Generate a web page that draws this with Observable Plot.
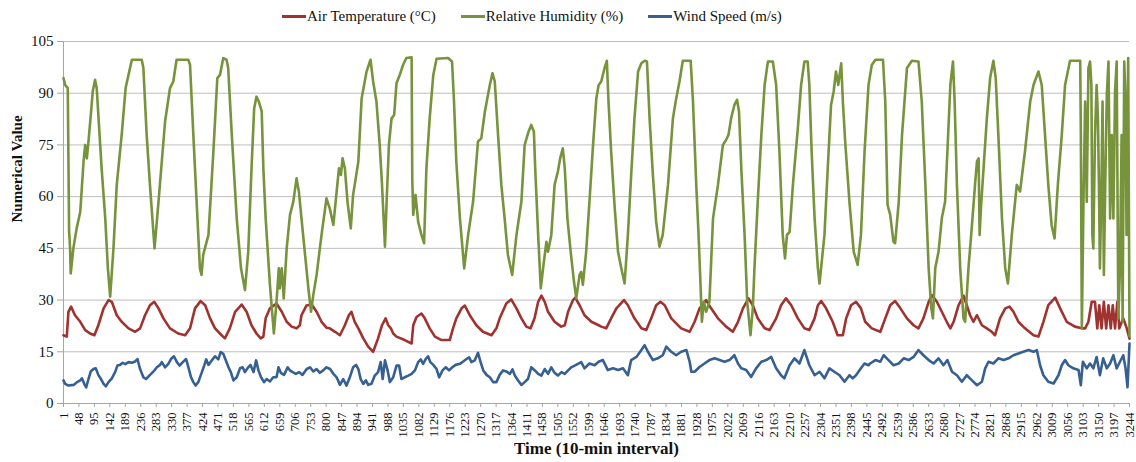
<!DOCTYPE html>
<html>
<head>
<meta charset="utf-8">
<script src="https://cdn.jsdelivr.net/npm/d3@7"></script>
<script src="https://cdn.jsdelivr.net/npm/@observablehq/plot@0.6"></script>
<style>
  html, body { margin: 0; padding: 0; background: #fff; }
  #wrap { position: relative; width: 1136px; height: 462px; overflow: hidden; }
  #legend { position: absolute; left: 282px; top: 5px; height: 22px; display: flex; align-items: center;
            font-family: "Liberation Serif", "Times New Roman", serif; font-size: 15px; color: #111; white-space: nowrap; }
  #legend .item { display: flex; align-items: center; margin-right: 25px; }
  #legend .swatch { width: 24px; height: 3px; margin-right: 1px; }
  #chart { position: absolute; left: 0; top: 30px; }
</style>
</head>
<body>
<div id="wrap">
  <div id="legend"></div>
  <div id="chart"></div>
</div>
<script>
// ---- Data (index of 10-min interval, value) ----
const seriesNames = ["Air Temperature (°C)", "Relative Humidity (%)", "Wind Speed (m/s)"];
const seriesColors = ["#A0332F", "#77933C", "#376092"];

const airTemperature = [
[1,19.8],[11,19.4],[16,26.6],[24,28.1],[36,25.6],[52,23.7],[67,21.3],[82,20.3],[95,19.8],[107,22.7],[123,27.6],[138,30.0],[148,29.5],[163,25.6],[178,23.7],[199,21.8],[219,20.8],[234,21.8],[249,25.6],[264,28.5],[277,29.5],[290,27.6],[305,24.7],[325,21.8],[350,20.3],[371,19.8],[386,21.8],[401,27.6],[418,29.7],[432,28.5],[447,24.7],[462,21.8],[482,19.8],[492,18.9],[507,21.8],[523,26.6],[543,28.7],[558,26.6],[573,22.7],[588,20.3],[601,18.9],[609,19.4],[616,24.7],[629,27.6],[649,29.0],[665,26.6],[680,23.7],[695,22.3],[710,21.8],[720,22.7],[725,25.6],[740,28.4],[756,28.7],[771,26.6],[786,23.7],[801,22.0],
[811,21.8],[827,20.8],[842,19.8],[857,22.7],[869,25.6],[877,26.6],[887,23.7],[898,21.8],[913,18.9],[928,16.5],[943,15.0],[958,18.9],[970,22.7],[981,24.7],[989,22.7],[997,21.8],[1004,20.3],[1014,19.4],[1039,18.4],[1060,17.4],[1065,22.7],[1075,25.1],[1090,26.1],[1100,24.7],[1115,21.8],[1131,19.4],[1151,18.4],[1176,18.4],[1186,21.8],[1196,24.7],[1212,27.6],[1222,28.4],[1237,25.6],[1257,22.7],[1277,20.8],[1303,19.8],[1318,21.8],[1328,24.7],[1348,29.0],[1363,30.2],[1379,27.6],[1394,24.7],[1409,22.3],[1422,21.8],[1434,24.7],[1445,29.5],[1455,31.3],[1465,29.5],[1475,26.6],[1495,23.7],[1515,22.3],[1526,22.7],[1536,26.6],[1551,30.0],[1558,30.7],[1571,28.5],[1586,25.6],[1607,23.7],[1629,22.7],
[1637,22.3],[1652,21.8],[1667,24.7],[1683,27.6],[1706,30.0],[1718,28.5],[1738,24.7],[1759,21.8],[1774,21.3],[1789,24.7],[1804,28.5],[1817,29.5],[1830,28.5],[1850,24.7],[1880,21.8],[1906,20.8],[1921,23.7],[1936,27.6],[1956,30.0],[1971,27.6],[1992,24.7],[2017,22.3],[2037,20.8],[2053,23.7],[2068,27.6],[2085,30.5],[2098,28.5],[2113,24.7],[2134,21.8],[2149,21.3],[2169,24.7],[2184,28.5],[2199,30.5],[2215,28.5],[2235,24.7],[2255,21.8],[2270,21.3],[2286,24.7],[2296,28.5],[2306,29.7],[2321,27.6],[2341,23.7],[2356,19.8],[2372,19.8],[2382,24.7],[2397,28.5],[2412,29.5],[2427,27.6],
[2440,23.7],[2460,21.8],[2486,20.8],[2501,24.7],[2516,28.5],[2531,29.7],[2547,27.6],[2567,24.7],[2587,22.7],[2602,21.8],[2617,24.7],[2633,29.5],[2643,31.4],[2658,29.5],[2673,26.6],[2688,23.7],[2699,21.8],[2709,23.7],[2724,28.5],[2739,31.3],[2749,28.5],[2759,25.6],[2769,23.7],[2780,25.6],[2795,22.7],[2810,21.8],[2825,20.8],[2835,19.8],[2850,24.7],[2866,27.6],[2879,28.1],[2891,26.6],[2906,23.7],[2926,21.8],[2952,19.8],[2967,19.4],[2982,23.7],[2997,28.5],[3018,30.7],[3033,27.6],[3053,23.7],[3078,22.3],[3099,21.8],[3109,21.8],[3119,23.7],[3129,29.5],[3139,29.5],[3146,21.8],[3152,28.5],[3159,21.8],[3166,29.5],[3173,21.8],[3180,28.5],[3187,21.8],[3193,28.5],[3200,21.8],[3207,29.5],[3213,21.8],[3225,24.7],[3235,22.0],[3244,18.8]
];

const relativeHumidity = [
[1,94.4],[6,92.4],[14,91.5],[18,50.0],[21,45.0],[23,37.7],[31,45.0],[41,50.8],[52,55.6],[62,70.2],[67,75.0],[72,71.1],[77,76.0],[85,84.7],[90,90.5],[97,93.9],[102,91.5],[107,83.7],[117,68.2],[128,53.7],[136,39.2],[143,31.0],
[153,45.0],[163,63.4],[178,77.9],[190,91.5],[201,96.3],[209,99.7],[239,99.7],[244,97.3],[254,77.9],[264,63.4],[278,45.0],
[290,58.5],[310,81.8],[325,91.5],[335,93.4],[345,99.7],[381,99.7],[386,98.2],[396,77.9],[406,58.5],[416,39.2],[421,37.3],
[426,43.1],[442,48.9],[457,73.1],[469,94.4],[477,95.3],[487,100.2],[497,99.7],[502,97.3],[513,77.9],[528,53.7],[541,39.2],[553,32.9],
[563,44.0],[573,68.2],[581,85.6],[588,89.0],[595,87.6],[604,84.7],[609,68.2],[616,53.7],[629,34.4],[641,20.3],
[649,29.5],[656,39.2],[659,33.4],[665,39.2],[671,30.5],[680,45.0],[690,54.7],[700,58.5],[710,65.3],[717,61.5],[725,53.7],[735,44.0],[746,33.4],[754,26.6],[761,31.5],[771,37.3],[786,48.9],[801,59.5],
[811,56.6],[822,51.8],[832,61.5],[839,68.2],[845,66.3],[850,71.1],[857,68.2],[865,58.5],[875,50.8],[882,60.5],[890,65.3],[898,70.2],[908,88.5],[923,96.3],[935,99.7],[943,93.4],[953,87.6],[963,75.0],[970,63.4],[979,45.5],
[984,58.5],[991,75.0],[999,82.7],[1007,83.7],[1014,92.9],[1024,95.3],[1034,98.2],[1044,100.2],[1060,100.4],[1062,65.3],[1065,54.7],[1072,60.5],[1080,52.7],[1090,48.9],[1098,46.5],
[1105,68.2],[1115,82.7],[1126,95.3],[1136,100.0],[1171,100.2],[1183,99.2],[1189,87.6],[1196,70.2],[1207,53.7],[1220,39.2],
[1232,48.9],[1247,58.5],[1262,76.0],[1272,76.9],[1283,84.7],[1298,92.4],[1306,95.8],[1313,93.4],[1323,77.9],[1333,63.4],[1343,53.7],[1353,43.1],[1366,37.3],
[1379,48.9],[1394,58.5],[1404,75.0],[1416,78.9],[1424,80.8],[1432,78.9],[1436,68.2],[1445,48.9],[1453,33.4],
[1460,39.2],[1470,46.9],[1475,44.0],[1485,48.9],[1495,63.4],[1505,67.3],[1512,71.1],[1520,74.0],[1526,68.2],[1534,53.7],[1544,44.0],[1554,35.3],[1561,30.5],[1571,37.3],[1576,38.2],[1581,34.4],[1591,44.0],[1601,58.5],[1612,75.0],[1622,88.5],[1629,92.4],
[1637,93.4],[1647,97.3],[1654,99.4],[1659,87.6],[1667,73.1],[1678,56.6],[1688,44.0],[1698,39.2],[1708,34.8],
[1718,48.9],[1728,66.3],[1738,82.7],[1749,96.3],[1759,98.7],[1769,99.4],[1776,99.2],[1784,82.7],[1794,66.3],[1804,52.7],[1814,45.5],
[1824,48.9],[1840,63.4],[1855,82.7],[1865,88.5],[1875,93.4],[1885,99.4],[1909,99.4],[1916,87.6],[1926,63.4],[1933,48.9],[1939,34.4],[1943,23.7],
[1949,29.5],[1956,26.6],[1966,29.5],[1977,53.7],[1992,63.4],[2007,75.0],[2017,76.5],[2024,77.9],[2032,82.7],[2042,86.6],[2050,88.1],[2056,84.7],[2063,68.2],[2073,48.9],[2081,29.5],[2085,25.6],[2091,19.8],[2098,27.6],
[2103,39.2],[2113,58.5],[2124,77.9],[2134,92.4],[2144,99.2],[2159,99.2],[2169,92.4],[2179,73.1],[2189,48.9],[2196,42.1],[2202,48.9],[2210,49.8],[2220,63.4],[2235,79.8],[2245,92.4],[2255,99.2],[2265,99.2],[2270,92.4],[2277,73.1],[2286,53.7],[2296,39.2],[2301,34.8],
[2316,48.9],[2326,68.2],[2336,86.6],[2344,90.5],[2351,96.3],[2358,92.4],[2367,98.7],[2372,87.6],[2379,76.0],[2392,58.5],[2405,44.0],[2417,40.2],[2427,48.9],[2438,73.1],[2450,92.4],
[2460,98.2],[2471,99.7],[2494,99.7],[2501,87.6],[2508,57.6],[2516,54.7],[2526,46.9],[2531,46.5],[2542,58.5],[2552,77.9],[2567,97.3],[2582,99.4],[2602,99.2],[2612,87.6],[2623,63.4],[2633,39.2],[2641,27.6],[2646,24.7],
[2653,39.2],[2663,44.0],[2673,53.7],[2683,58.5],[2690,73.1],[2699,92.4],[2707,99.2],[2712,87.6],[2719,63.4],[2729,39.2],[2739,24.7],[2744,23.7],
[2754,39.2],[2764,50.8],[2774,63.4],[2780,70.2],[2785,71.1],[2788,48.9],[2792,56.6],[2800,68.2],[2810,82.7],[2820,94.4],[2830,99.4],[2837,94.4],[2845,77.9],[2856,53.7],[2866,39.2],[2874,34.8],
[2886,48.9],[2901,63.4],[2911,61.5],[2926,73.1],[2942,87.6],[2952,92.4],[2967,96.3],[2977,92.4],[2987,77.9],[2997,63.4],[3007,51.8],[3016,47.9],
[3026,63.4],[3038,77.9],[3048,92.4],[3063,99.4],[3094,99.4],[3096,77.9],[3099,21.8],[3104,58.5],[3109,87.6],[3114,58.5],[3119,97.3],[3124,99.2],[3128,92.4],[3131,48.9],[3134,45.0],[3139,77.9],[3144,92.4],[3148,82.7],[3151,63.4],[3154,39.2],[3158,58.5],[3162,87.6],[3166,37.3],[3171,68.2],[3175,89.5],[3180,99.2],[3185,53.7],[3190,77.9],[3195,53.7],[3200,90.5],[3205,99.2],[3210,24.7],[3215,39.2],[3220,77.9],[3223,23.7],[3228,99.2],[3232,87.6],[3235,48.9],[3240,100.2],[3244,19.5]
];

const windSpeed = [
[1,6.7],[6,5.7],[16,5.2],[32,5.4],[42,6.2],[52,6.7],[57,7.3],[64,5.7],[70,4.7],[77,7.1],[84,9.3],[92,10.0],[99,10.2],[107,8.3],[115,7.1],[123,5.7],[130,5.0],[138,6.2],[148,7.3],[158,9.1],[165,11.0],[173,11.2],[181,11.8],[189,11.4],[199,12.0],[209,11.8],[219,12.2],[226,12.9],[234,10.0],[244,7.6],[252,7.1],[262,8.1],[275,9.3],[285,10.5],[295,11.2],[300,12.0],[310,10.5],[320,11.5],[328,12.9],[337,13.7],[346,12.0],[354,11.0],[364,12.0],[374,12.9],[381,10.5],[389,7.6],[396,6.2],[403,5.2],[411,6.2],[422,9.1],[429,11.0],[435,12.8],[442,11.2],[452,12.5],[462,13.7],[472,12.8],[479,14.9],[487,14.4],[495,12.5],[503,10.5],[510,9.1],[518,6.7],[528,7.6],[538,10.2],[546,10.5],[553,9.1],[563,10.5],[570,11.2],[579,9.1],[587,12.5],[594,9.6],[602,7.6],[611,6.2],[619,7.1],[629,6.4],[639,7.6],[649,7.6],[655,10.5],[662,8.9],[672,8.3],[683,10.5],[690,9.6],[698,9.1],[708,8.6],[718,9.1],[728,8.3],[741,10.0],[751,10.5],[761,9.3],[771,10.0],[781,8.9],[791,9.6],[801,10.5],
[812,10.0],[822,8.6],[832,7.6],[842,5.4],[852,7.1],[862,5.2],[872,7.6],[882,10.5],[891,11.2],[898,10.0],[905,7.1],[913,5.7],[921,6.7],[928,5.4],[938,5.7],[948,8.1],[958,9.1],[966,12.0],[972,7.1],[979,12.5],[987,9.6],[994,6.2],[1004,7.6],[1014,11.0],[1022,11.0],[1029,7.1],[1039,7.6],[1050,8.1],[1060,8.6],[1070,9.6],[1080,12.0],[1088,12.8],[1095,11.5],[1103,12.9],[1110,13.7],[1117,12.0],[1126,11.2],[1136,10.0],[1144,7.6],[1154,9.6],[1164,10.5],[1174,9.6],[1184,10.5],[1194,11.2],[1207,11.5],[1217,12.2],[1227,12.9],[1235,13.4],[1242,12.0],[1252,12.5],[1262,14.7],[1270,12.0],[1278,9.6],[1288,8.3],[1298,7.6],[1308,6.2],[1318,6.2],[1328,8.3],[1338,9.6],[1348,9.3],[1359,8.6],[1367,9.9],[1374,8.1],[1384,6.7],[1394,5.4],[1404,6.2],[1414,7.1],[1424,10.5],[1435,9.6],[1445,8.6],[1455,8.1],[1465,10.0],[1475,8.6],[1485,10.5],[1495,8.9],[1505,8.1],[1516,9.1],[1526,8.6],[1536,9.6],[1546,10.5],[1556,11.0],[1566,11.5],[1576,12.0],
[1586,10.2],[1601,11.6],[1617,11.1],[1629,12.1],[1642,12.6],[1657,9.7],[1673,10.2],[1688,9.7],[1703,10.2],[1718,8.2],[1728,12.6],[1744,13.5],[1759,15.5],[1769,16.9],[1779,15.0],[1794,12.6],[1809,13.1],[1824,14.0],[1835,16.5],[1850,15.0],[1865,14.0],[1880,15.0],[1896,15.5],[1906,12.1],[1911,9.2],[1921,9.2],[1936,10.6],[1951,11.6],[1966,12.6],[1982,13.1],[1997,12.6],[2012,12.1],[2027,12.6],[2042,14.0],[2053,11.6],[2063,10.2],[2078,9.7],[2093,7.7],[2108,10.2],[2124,12.1],[2139,12.6],[2154,13.5],[2169,10.2],[2184,8.2],[2194,7.3],[2210,11.1],[2225,13.1],[2240,11.6],[2255,15.5],[2270,11.1],[2286,8.2],[2301,9.2],[2316,7.3],[2331,10.2],[2346,9.2],[2362,8.2],[2377,6.3],[2392,8.2],[2402,7.3],[2412,8.2],[2427,10.2],[2438,11.6],[2450,11.1],
[2455,11.6],[2471,12.6],[2486,12.1],[2496,14.0],[2511,12.6],[2526,11.1],[2542,11.6],[2557,13.1],[2572,12.6],[2587,13.5],[2602,15.5],[2617,14.0],[2633,12.6],[2648,11.6],[2663,13.1],[2678,11.1],[2690,12.6],[2704,9.2],[2719,8.2],[2734,6.3],[2749,8.2],[2764,6.8],[2780,5.3],[2795,6.3],[2805,10.2],[2815,12.1],[2830,11.6],[2845,13.1],[2861,12.6],[2876,13.1],[2891,14.0],[2906,14.5],[2921,15.0],[2937,15.5],[2952,15.0],[2962,15.5],[2972,11.1],[2982,8.2],[2997,6.3],[3013,5.8],[3028,8.2],[3038,11.1],[3048,12.6],[3058,11.1],[3073,10.2],[3089,9.7],[3096,5.3],[3102,12.1],[3114,10.2],[3124,11.6],[3134,10.2],[3144,13.5],[3154,8.2],[3164,13.1],[3175,10.2],[3185,11.6],[3195,14.0],[3205,10.2],[3215,12.1],[3225,14.0],[3232,10.2],[3238,4.7],[3244,17.4]
];

const xTicks = [1,48,95,142,189,236,283,330,377,424,471,518,565,612,659,706,753,800,847,894,941,988,1035,1082,1129,1176,1223,1270,1317,1364,1411,1458,1505,1552,1599,1646,1693,1740,1787,1834,1881,1928,1975,2022,2069,2116,2163,2210,2257,2304,2351,2398,2445,2492,2539,2586,2633,2680,2727,2774,2821,2868,2915,2962,3009,3056,3103,3150,3197,3244];
const yTicks = [0,15,30,45,60,75,90,105];
const xTitle = "Time (10-min interval)";
const yTitle = "Numerical Value";

// ---- Legend (HTML, above the SVG) ----
const legend = document.getElementById("legend");
seriesNames.forEach((name, i) => {
  const item = document.createElement("div");
  item.className = "item";
  const sw = document.createElement("div");
  sw.className = "swatch";
  sw.style.background = seriesColors[i];
  const label = document.createElement("span");
  label.textContent = name;
  item.appendChild(sw);
  item.appendChild(label);
  legend.appendChild(item);
});

// ---- Chart ----
const allSeries = [airTemperature, relativeHumidity, windSpeed];
const rows = allSeries.flatMap((s, i) => s.map(([t, v]) => ({t, v, series: seriesNames[i]})));

const chart = Plot.plot({
  width: 1136,
  height: 432,
  marginTop: 11,
  marginBottom: 59,
  marginLeft: 63,
  marginRight: 7,
  style: {fontFamily: "'Liberation Serif', 'Times New Roman', serif", color: "#111", background: "#fff", overflow: "visible"},
  x: {domain: [1, 3244]},
  y: {domain: [0, 105]},
  color: {domain: seriesNames, range: seriesColors},
  marks: [
    Plot.gridY(yTicks, {stroke: "#BEBEBE", strokeOpacity: 1, strokeWidth: 1}),
    Plot.ruleX([1], {stroke: "#A6A6A6", strokeWidth: 1}),
    Plot.ruleY([0], {stroke: "#A6A6A6", strokeWidth: 1}),
    Plot.axisX(xTicks, {tickRotate: -90, tickSize: 4, tickPadding: 5, fontSize: 12.5, label: null, stroke: "#A6A6A6", tickFormat: d => String(d)}),
    Plot.axisY(yTicks, {tickSize: 6, tickPadding: 4, fontSize: 15, label: null, stroke: "#A6A6A6", tickFormat: d => String(d)}),
    Plot.line(rows, {x: "t", y: "v", z: "series", stroke: "series", strokeWidth: 2.6, strokeLinejoin: "round", strokeLinecap: "round"}),
    Plot.text([yTitle], {frameAnchor: "left", dx: -46, rotate: -90, fontWeight: "bold", fontSize: 15, fill: "#111"}),
    Plot.text([xTitle], {frameAnchor: "bottom", dx: 0, dy: 50, fontWeight: "bold", fontSize: 17, fill: "#111"})
  ]
});
document.getElementById("chart").appendChild(chart);
</script>
</body>
</html>
